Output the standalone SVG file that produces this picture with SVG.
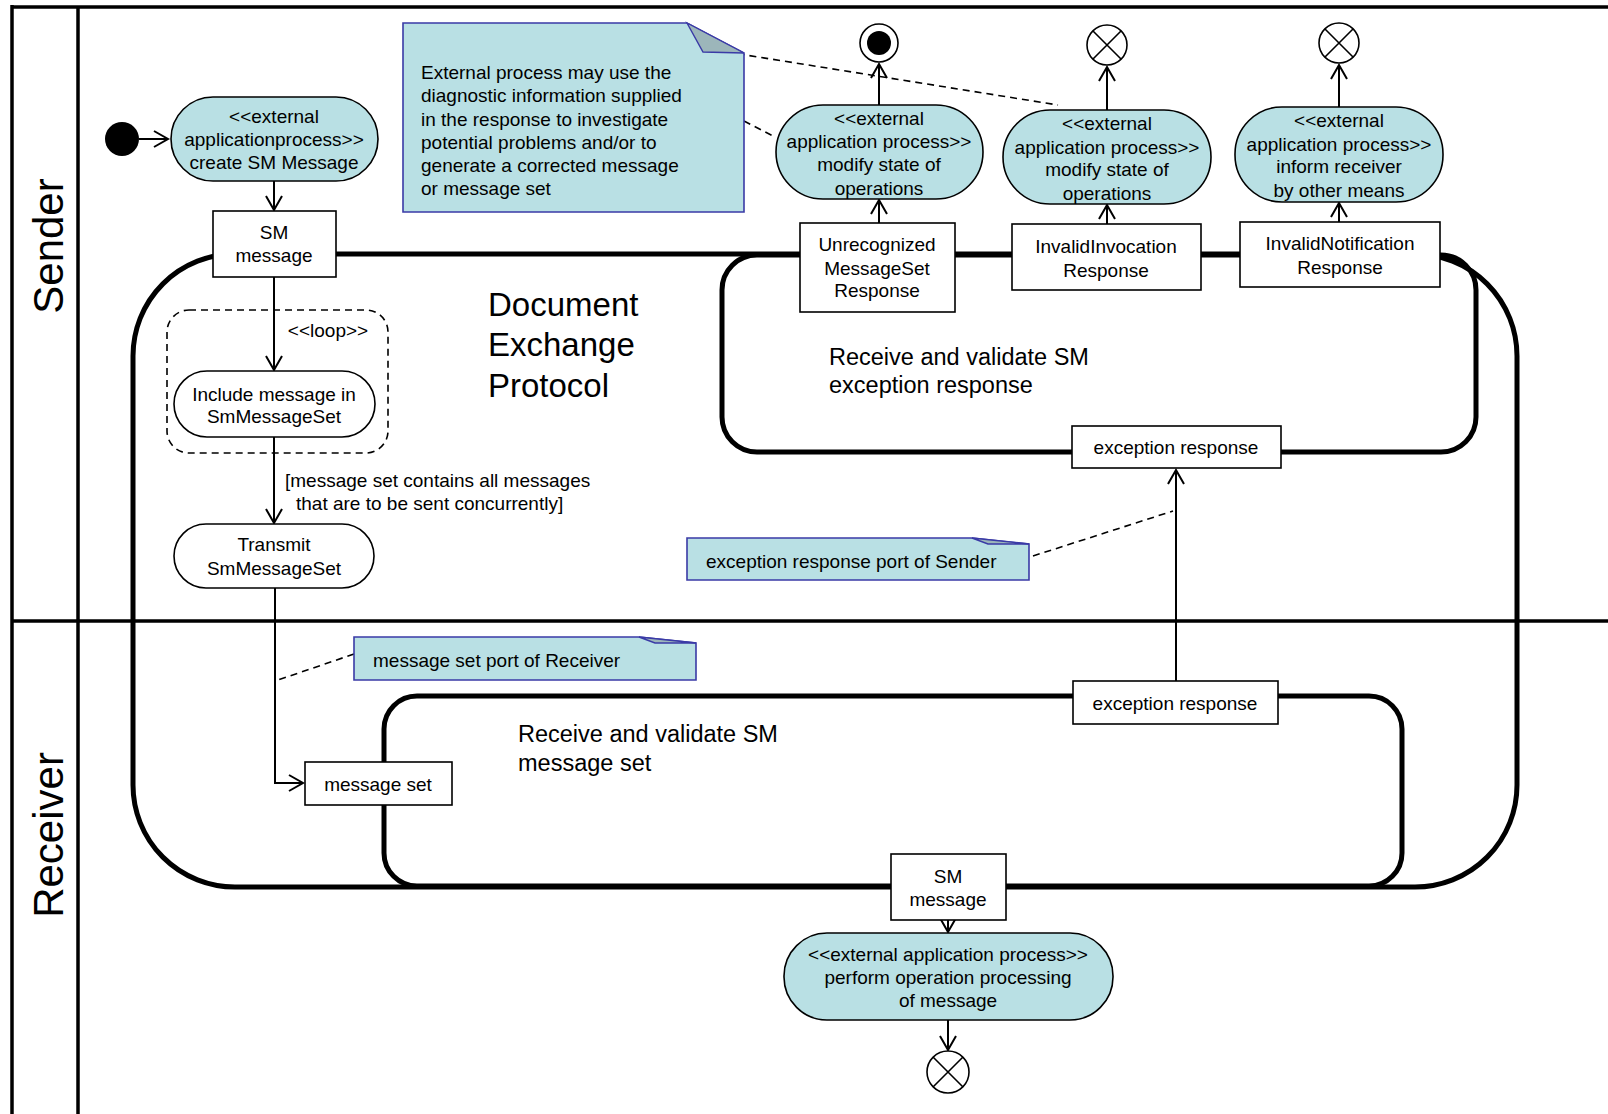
<svg xmlns="http://www.w3.org/2000/svg" width="1608" height="1114" viewBox="0 0 1608 1114">
<defs>
<style>
text{font-family:"Liberation Sans",Arial,sans-serif;font-size:19px;fill:#000}
.c{text-anchor:middle}
.lane{fill:none;stroke:#000;stroke-width:3.5}
.frame{fill:none;stroke:#000;stroke-width:5}
.pill{fill:#b9e0e4;stroke:#000;stroke-width:1.6}
.act{fill:#fff;stroke:#000;stroke-width:1.6}
.box{fill:#fff;stroke:#000;stroke-width:1.6}
.note{fill:#b9e0e4;stroke:#3a3aa6;stroke-width:1.6}
.fold{fill:#9cb6ba;stroke:#3a3aa6;stroke-width:1.4}
.flow{fill:none;stroke:#000;stroke-width:2}
.dash{fill:none;stroke:#000;stroke-width:1.6;stroke-dasharray:7 5}
.big{font-size:33px}
.mid{font-size:23.5px}
.lanet{font-size:42px}
</style>
<marker id="arr" markerWidth="18" markerHeight="20" refX="15" refY="9" orient="auto" markerUnits="userSpaceOnUse" overflow="visible">
<path d="M1,1 L15,9 L1,17" fill="none" stroke="#000" stroke-width="2"/>
</marker>
</defs>

<g id="swimlanes">
<rect x="0" y="0" width="1608" height="1114" fill="#fff"/>
<line class="lane" x1="12" y1="7" x2="1608" y2="7"/>
<line class="lane" x1="12" y1="5" x2="12" y2="1114"/>
<line class="lane" x1="78" y1="7" x2="78" y2="1114"/>
<line class="lane" x1="12" y1="621" x2="1608" y2="621"/>
<text class="lanet c" transform="translate(63,246) rotate(-90)">Sender</text>
<text class="lanet c" transform="translate(63,835) rotate(-90)">Receiver</text>
</g>

<g id="document-exchange-protocol">
<rect class="frame" x="133" y="254" width="1384" height="633" rx="102" ry="102"/>
<text class="big" x="488" y="316">Document</text>
<text class="big" x="488" y="356">Exchange</text>
<text class="big" x="488" y="397">Protocol</text>
</g>

<g id="receive-exception-response">
<rect class="frame" x="722" y="255" width="754" height="197" rx="35" ry="35"/>
<text class="mid" x="829" y="365">Receive and validate SM</text>
<text class="mid" x="829" y="393">exception response</text>
</g>

<g id="receive-message-set">
<rect class="frame" x="384" y="696" width="1018" height="190" rx="33" ry="33"/>
<text class="mid" x="518" y="742">Receive and validate SM</text>
<text class="mid" x="518" y="771">message set</text>
</g>

<g id="loop-region">
<rect x="167" y="310" width="221" height="143" rx="22" ry="22" fill="none" stroke="#000" stroke-width="1.6" stroke-dasharray="7 5"/>
<text class="c" x="328" y="337">&lt;&lt;loop&gt;&gt;</text>
</g>

<g id="connectors">
<line class="flow" x1="139" y1="139" x2="168" y2="139" marker-end="url(#arr)"/>
<line class="flow" x1="274" y1="181" x2="274" y2="210" marker-end="url(#arr)"/>
<line class="flow" x1="274" y1="277" x2="274" y2="370" marker-end="url(#arr)"/>
<line class="flow" x1="274" y1="437" x2="274" y2="523" marker-end="url(#arr)"/>
<polyline class="flow" points="275,588 275,783 303,783" marker-end="url(#arr)"/>
<line class="flow" x1="1176" y1="681" x2="1176" y2="470" marker-end="url(#arr)"/>
<line class="flow" x1="948" y1="920" x2="948" y2="932" marker-end="url(#arr)"/>
<line class="flow" x1="948" y1="1020" x2="948" y2="1050" marker-end="url(#arr)"/>
<line class="flow" x1="879" y1="223" x2="879" y2="200" marker-end="url(#arr)"/>
<line class="flow" x1="879" y1="105" x2="879" y2="64" marker-end="url(#arr)"/>
<line class="flow" x1="1107" y1="224" x2="1107" y2="205" marker-end="url(#arr)"/>
<line class="flow" x1="1107" y1="110" x2="1107" y2="67" marker-end="url(#arr)"/>
<line class="flow" x1="1339" y1="222" x2="1339" y2="203" marker-end="url(#arr)"/>
<line class="flow" x1="1339" y1="107" x2="1339" y2="65" marker-end="url(#arr)"/>
<line class="dash" x1="702" y1="48" x2="1058" y2="105"/>
<line class="dash" x1="744" y1="121" x2="775" y2="137"/>
<line class="dash" x1="1033" y1="556" x2="1173" y2="511"/>
<line class="dash" x1="354" y1="654" x2="275" y2="681"/>
</g>

<g id="initial-node">
<circle cx="122" cy="139" r="17" fill="#000"/>
</g>

<g id="create-sm-message">
<rect class="pill" x="171" y="97" width="207" height="84" rx="42" ry="42"/>
<text class="c" x="274" y="123">&lt;&lt;external</text>
<text class="c" x="274" y="145.5">applicationprocess&gt;&gt;</text>
<text class="c" x="274" y="169">create SM Message</text>
</g>

<g id="sm-message-out">
<rect class="box" x="213" y="211" width="123" height="66"/>
<text class="c" x="274" y="239">SM</text>
<text class="c" x="274" y="262">message</text>
</g>

<g id="include-message">
<rect class="act" x="174" y="371" width="201" height="66" rx="33" ry="33"/>
<text class="c" x="274" y="401">Include message in</text>
<text class="c" x="274" y="423">SmMessageSet</text>
</g>

<g id="guard-label">
<text x="285" y="487">[message set contains all messages</text>
<text x="296" y="510">that are to be sent concurrently]</text>
</g>

<g id="transmit">
<rect class="act" x="174" y="524" width="200" height="64" rx="32" ry="32"/>
<text class="c" x="274" y="551">Transmit</text>
<text class="c" x="274" y="575">SmMessageSet</text>
</g>

<g id="note-external">
<path class="note" d="M403,23 L687,23 L744,53 L744,212 L403,212 Z"/>
<path class="fold" d="M687,23 L744,53 L703,52 Z"/>
<text x="421" y="79">External process may use the</text>
<text x="421" y="102">diagnostic information supplied</text>
<text x="421" y="126">in the response to investigate</text>
<text x="421" y="149">potential problems and/or to</text>
<text x="421" y="172">generate a corrected message</text>
<text x="421" y="195">or message set</text>
</g>

<g id="final-node">
<circle cx="879" cy="43" r="19" fill="#fff" stroke="#000" stroke-width="1.6"/>
<circle cx="879" cy="43" r="12" fill="#000"/>
</g>

<g id="modify-state-1">
<rect class="pill" x="776" y="105" width="207" height="94" rx="47" ry="47"/>
<text class="c" x="879" y="125">&lt;&lt;external</text>
<text class="c" x="879" y="147.5">application process&gt;&gt;</text>
<text class="c" x="879" y="171">modify state of</text>
<text class="c" x="879" y="194.5">operations</text>
</g>

<g id="flow-final-2">
<circle cx="1107" cy="45" r="20" fill="#fff" stroke="#000" stroke-width="1.6"/>
<path d="M1093,31 L1121,59 M1121,31 L1093,59" stroke="#000" stroke-width="1.6"/>
</g>

<g id="modify-state-2">
<rect class="pill" x="1003" y="110" width="208" height="94" rx="47" ry="47"/>
<text class="c" x="1107" y="130">&lt;&lt;external</text>
<text class="c" x="1107" y="153.5">application process&gt;&gt;</text>
<text class="c" x="1107" y="176">modify state of</text>
<text class="c" x="1107" y="199.5">operations</text>
</g>

<g id="flow-final-3">
<circle cx="1339" cy="43" r="20" fill="#fff" stroke="#000" stroke-width="1.6"/>
<path d="M1325,29 L1353,57 M1353,29 L1325,57" stroke="#000" stroke-width="1.6"/>
</g>

<g id="inform-receiver">
<rect class="pill" x="1235" y="107" width="208" height="95" rx="47" ry="47"/>
<text class="c" x="1339" y="127">&lt;&lt;external</text>
<text class="c" x="1339" y="150.5">application process&gt;&gt;</text>
<text class="c" x="1339" y="173">inform receiver</text>
<text class="c" x="1339" y="197">by other means</text>
</g>

<g id="unrecognized-response">
<rect class="box" x="800" y="223" width="155" height="89"/>
<text class="c" x="877" y="251">Unrecognized</text>
<text class="c" x="877" y="274.5">MessageSet</text>
<text class="c" x="877" y="297">Response</text>
</g>

<g id="invalid-invocation-response">
<rect class="box" x="1012" y="224" width="189" height="66"/>
<text class="c" x="1106" y="253">InvalidInvocation</text>
<text class="c" x="1106" y="277">Response</text>
</g>

<g id="invalid-notification-response">
<rect class="box" x="1240" y="222" width="200" height="65"/>
<text class="c" x="1340" y="250">InvalidNotification</text>
<text class="c" x="1340" y="273.5">Response</text>
</g>

<g id="exception-response-in">
<rect class="box" x="1072" y="426" width="209" height="42"/>
<text class="c" x="1176" y="454">exception response</text>
</g>

<g id="note-exception-port">
<path class="note" d="M687,538 L972,538 L1029,544 L1029,580 L687,580 Z"/>
<path class="fold" d="M972,538 L1029,544 L988,544 Z"/>
<text x="706" y="568">exception response port of Sender</text>
</g>

<g id="note-message-set-port">
<path class="note" d="M354,637 L639,637 L696,643 L696,680 L354,680 Z"/>
<path class="fold" d="M639,637 L696,643 L655,643 Z"/>
<text x="373" y="667">message set port of Receiver</text>
</g>

<g id="message-set-in">
<rect class="box" x="305" y="762" width="147" height="43"/>
<text class="c" x="378" y="791">message set</text>
</g>

<g id="exception-response-out">
<rect class="box" x="1073" y="681" width="205" height="43"/>
<text class="c" x="1175" y="710">exception response</text>
</g>

<g id="sm-message-in">
<rect class="box" x="891" y="854" width="115" height="66"/>
<text class="c" x="948" y="883">SM</text>
<text class="c" x="948" y="906">message</text>
</g>

<g id="perform-operation">
<rect class="pill" x="784" y="933" width="329" height="87" rx="43" ry="43"/>
<text class="c" x="948" y="961">&lt;&lt;external application process&gt;&gt;</text>
<text class="c" x="948" y="984">perform operation processing</text>
<text class="c" x="948" y="1007">of message</text>
</g>

<g id="flow-final-4">
<circle cx="948" cy="1072" r="21" fill="#fff" stroke="#000" stroke-width="1.6"/>
<path d="M933,1057 L963,1087 M963,1057 L933,1087" stroke="#000" stroke-width="1.6"/>
</g>
</svg>
